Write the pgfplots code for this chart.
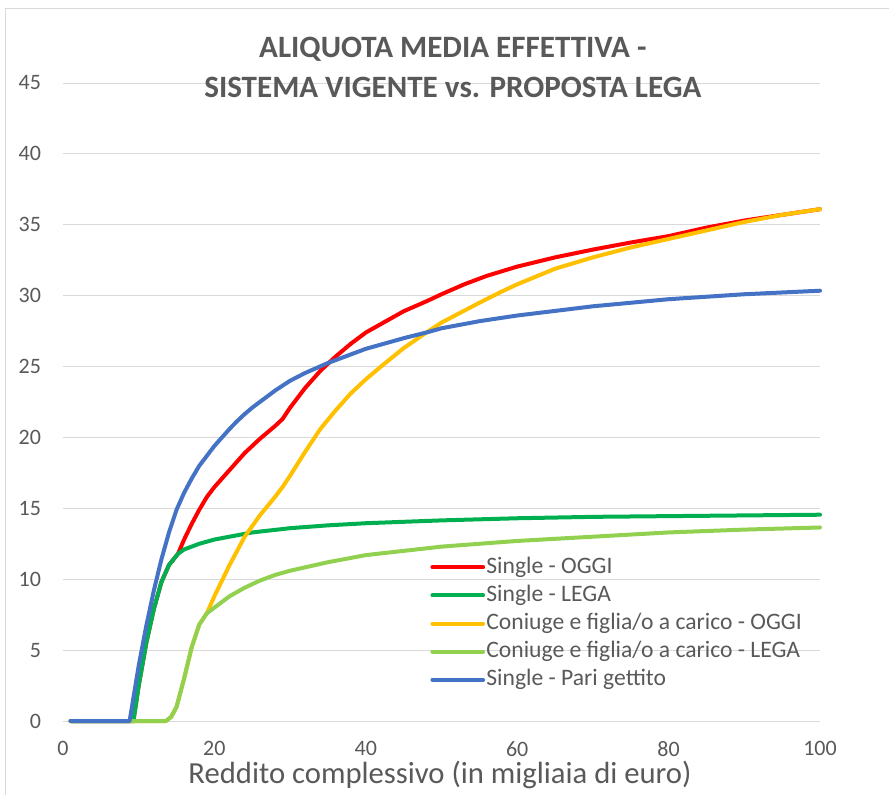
\documentclass[border=0pt]{standalone}
\usepackage{fontspec}
\setmainfont{Carlito}
\usepackage{pgfplots}
\pgfplotsset{compat=1.18}
\definecolor{txt}{HTML}{595959}
\definecolor{gridc}{HTML}{D9D9D9}
\definecolor{cred}{HTML}{FF0000}
\definecolor{cgreen}{HTML}{00B050}
\definecolor{cyellow}{HTML}{FFC000}
\definecolor{clgreen}{HTML}{92D050}
\definecolor{cblue}{HTML}{4472C4}
\begin{document}
\begin{tikzpicture}
\useasboundingbox (-47.25pt,-54.75pt) rectangle (619.5pt,540.75pt);
\draw[gridc, line width=0.75pt] (-42.75pt,-60pt) -- (-42.75pt,534pt) -- (625pt,534pt);
\begin{axis}[
  at={(0,0)}, anchor=south west,
  scale only axis, width=567.75pt, height=478.5pt,
  xmin=0, xmax=100, ymin=0, ymax=45,
  clip=false,
  axis line style={draw=none},
  tick style={draw=none},
  ymajorgrids,
  major grid style={gridc, line width=0.75pt},
  xtick={0,20,...,100}, ytick={0,5,...,45},
  /pgf/number format/assume math mode=true,
  ticklabel style={text=txt, font=\fontsize{16.5}{19}\selectfont},
  yticklabel style={xshift=-13pt},
  xticklabel style={yshift=-12pt},
  xlabel={Reddito complessivo (in migliaia di euro)},
  xlabel style={at={(rel axis cs:0.498,0)}, anchor=center, yshift=-40.5pt, text=txt, font=\fontsize{23}{27}\selectfont},
  title={ALIQUOTA MEDIA EFFETTIVA -\\SISTEMA VIGENTE vs. PROPOSTA LEGA},
  title style={at={(rel axis cs:0.515,1.0118)}, anchor=center, align=center, text=txt, font=\fontsize{23.3}{30}\bfseries\selectfont},
  legend style={at={(rel axis cs:0.485,0.262)}, anchor=north west, draw=none, fill=none,
    font=\fontsize{17.7}{21}\selectfont, text=txt, row sep=1.4pt, inner sep=0pt,
    nodes={inner sep=1pt, text height=13.3pt, text depth=4.4pt}},
  legend cell align=left,
  legend image code/.code={\draw[#1, line width=3pt, line cap=round] (0pt,0pt) -- (38pt,0pt);},
  every axis plot/.append style={line width=3pt, line join=round, line cap=round},
]
% Single - OGGI
\addplot[cred] coordinates {
(1,0) (9.3,0) (10,2.5) (11,5.5) (12,7.9) (13,9.8) (14,11.0) (15.2,11.8)
(16,12.8) (17,13.9) (18,14.9) (19,15.8) (20,16.5) (22,17.7) (24,18.9) (26,19.9) (28,20.8) (29,21.3)
(30,22.1) (31,22.8) (32,23.5) (34,24.7) (36,25.7) (38,26.6) (40,27.4) (42,28.0) (45,28.9) (48,29.6)
(50,30.1) (53,30.8) (56,31.4) (60,32.05) (65,32.7) (70,33.25) (75,33.75) (80,34.2) (85,34.8) (90,35.3)
(95,35.7) (100,36.1)};
\addlegendentry{Single - OGGI}
% Single - LEGA
\addplot[cgreen] coordinates {
(1,0) (9.3,0) (10,2.5) (11,5.5) (12,7.9) (13,9.8) (14,11.0) (15.2,11.8) (16,12.1) (18,12.5) (20,12.8)
(22,13.0) (25,13.3) (30,13.6) (35,13.8) (40,13.95) (50,14.15) (60,14.3) (70,14.4) (80,14.45) (90,14.5) (100,14.55)};
\addlegendentry{Single - LEGA}
% Coniuge OGGI
\addplot[cyellow] coordinates {
(1,0) (13.6,0) (14.3,0.3) (15,1.0) (16,3.0) (17,5.2) (18,6.8) (19,7.6)
(20,8.8) (22,11.0) (24,13.0) (26,14.5) (28,15.8) (29,16.5) (30,17.3) (32,19.0) (34,20.6) (36,21.9)
(38,23.1) (40,24.1) (42,25.0) (45,26.3) (48,27.4) (50,28.1) (55,29.5) (58,30.3) (60,30.8) (65,31.9) (70,32.7) (75,33.4) (80,34.0)
(85,34.6) (90,35.2) (95,35.7) (100,36.1)};
\addlegendentry{Coniuge e figlia/o a carico - OGGI}
% Coniuge LEGA
\addplot[clgreen] coordinates {
(1,0) (13.6,0) (14.3,0.3) (15,1.0) (16,3.0) (17,5.2) (18,6.8) (19,7.6) (20,8.0) (22,8.8) (24,9.4)
(26,9.9) (28,10.3) (30,10.6) (35,11.2) (40,11.7) (45,12.0) (50,12.3) (60,12.7) (70,13.0) (80,13.3)
(90,13.5) (100,13.65)};
\addlegendentry{Coniuge e figlia/o a carico - LEGA}
% Single - Pari gettito
\addplot[cblue] coordinates {
(1,0) (8.8,0) (10,3.9) (11,6.7) (12,9.2) (13,11.4) (14,13.3) (15,14.9) (16,16.1) (17,17.1) (18,18.0)
(19,18.7) (20,19.4) (21,20.0) (22,20.6) (23,21.15) (24,21.65) (25,22.1) (26,22.5) (27,22.9) (28,23.3)
(29,23.65) (30,24.0) (32,24.55) (35,25.25) (40,26.25) (45,27.0)
(48,27.4) (50,27.7) (55,28.2) (60,28.6) (70,29.25) (80,29.75) (90,30.1) (100,30.35)};
\addlegendentry{Single - Pari gettito}
\end{axis}
\end{tikzpicture}
\end{document}
